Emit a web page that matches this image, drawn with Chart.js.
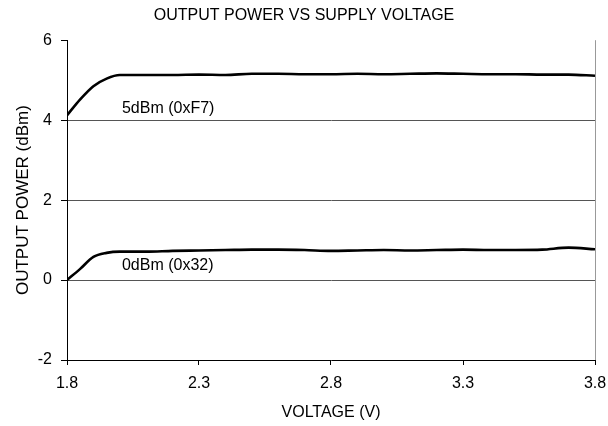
<!DOCTYPE html>
<html>
<head>
<meta charset="utf-8">
<script src="https://cdn.jsdelivr.net/npm/chart.js@4/dist/chart.umd.min.js"></script>
<style>
  html, body { margin: 0; padding: 0; background: #fff; }
  #wrap { width: 608px; height: 426px; }
</style>
</head>
<body>
<div id="wrap"><canvas id="chart"></canvas></div>
<script>
const voltage = [1.8, 1.85, 1.9, 1.95, 2.0, 2.1, 2.2, 2.3, 2.4, 2.5, 2.6, 2.7, 2.8, 2.9, 3.0, 3.1, 3.2, 3.3, 3.4, 3.5, 3.6, 3.7, 3.8];
const power5dBm = [4.12, 4.52, 4.85, 5.04, 5.13, 5.13, 5.13, 5.14, 5.13, 5.16, 5.16, 5.15, 5.15, 5.16, 5.15, 5.16, 5.17, 5.16, 5.15, 5.15, 5.14, 5.14, 5.11];
const power0dBm = [0.0, 0.28, 0.58, 0.68, 0.71, 0.71, 0.73, 0.74, 0.75, 0.76, 0.76, 0.75, 0.73, 0.74, 0.75, 0.74, 0.75, 0.76, 0.75, 0.75, 0.76, 0.81, 0.77];
const xTicks = [1.8, 2.3, 2.8, 3.3, 3.8];
const yTicks = [-2, 0, 2, 4, 6];
const seriesLabels = ['5dBm (0xF7)', '0dBm (0x32)'];

const FONT = 'Arial, "Liberation Sans", sans-serif';

const toPoints = vals => vals.map((v, i) => ({ x: voltage[i], y: v }));

// series names written inside the plot
const inlineLabels = {
    id: 'inlineLabels',
    afterDatasetsDraw(chart) {
        const { ctx, scales: { x, y } } = chart;
        ctx.save();
        ctx.font = '16px ' + FONT;
        ctx.fillStyle = '#000';
        ctx.textBaseline = 'middle';
        ctx.textAlign = 'left';
        ctx.fillText(seriesLabels[0], x.getPixelForValue(2.008), y.getPixelForValue(4.3));
        ctx.fillText(seriesLabels[1], x.getPixelForValue(2.008), y.getPixelForValue(0.35));
        ctx.restore();
    }
};

new Chart(document.getElementById('chart'), {
    type: 'line',
    data: {
        datasets: [
            { data: toPoints(power5dBm), borderColor: '#000', borderWidth: 2.6, pointRadius: 0, cubicInterpolationMode: 'monotone' },
            { data: toPoints(power0dBm), borderColor: '#000', borderWidth: 2.6, pointRadius: 0, cubicInterpolationMode: 'monotone' },
        ],
    },
    options: {
        responsive: true,
        maintainAspectRatio: false,
        animation: false,
        layout: { padding: 0 },
        plugins: {
            legend: { display: false },
            tooltip: { enabled: false },
            title: {
                display: true,
                text: 'OUTPUT POWER VS SUPPLY VOLTAGE',
                color: '#000',
                font: { family: FONT, size: 16, weight: 'normal' },
                padding: { top: 6, bottom: 15 },
            },
        },
        scales: {
            x: {
                type: 'linear',
                min: 1.8,
                max: 3.8,
                afterBuildTicks: s => { s.ticks = xTicks.map(v => ({ value: v })); },
                afterFit: s => { s.height = 66; s.paddingRight = 13; s.paddingLeft = 0; },
                grid: {
                    drawOnChartArea: true,
                    color: c => (c.tick && c.tick.value === 3.8 ? '#999' : 'rgba(0,0,0,0)'),
                    tickColor: '#000',
                    tickLength: 5,
                },
                border: { display: true, color: '#000', width: 1 },
                ticks: {
                    color: '#000',
                    padding: 9,
                    maxRotation: 0,
                    font: { family: FONT, size: 16 },
                    callback: v => v.toFixed(1),
                },
                title: {
                    display: true,
                    text: 'VOLTAGE (V)',
                    color: '#000',
                    font: { family: FONT, size: 16 },
                    padding: { top: 0, bottom: 4 },
                },
            },
            y: {
                min: -2,
                max: 6,
                afterBuildTicks: s => { s.ticks = yTicks.map(v => ({ value: v })); },
                afterFit: s => { s.width = 67; },
                grid: {
                    color: c => (c.tick && (c.tick.value === 6 || c.tick.value === -2) ? 'rgba(0,0,0,0)' : '#555'),
                    tickColor: '#000',
                    tickLength: 6,
                },
                border: { display: true, color: '#000', width: 1 },
                ticks: {
                    color: '#000',
                    padding: 9,
                    font: { family: FONT, size: 16 },
                },
                title: {
                    display: true,
                    text: 'OUTPUT POWER (dBm)',
                    color: '#000',
                    font: { family: FONT, size: 17 },
                    padding: { top: 13, bottom: 0 },
                },
            },
        },
    },
    plugins: [inlineLabels],
});
</script>
</body>
</html>
